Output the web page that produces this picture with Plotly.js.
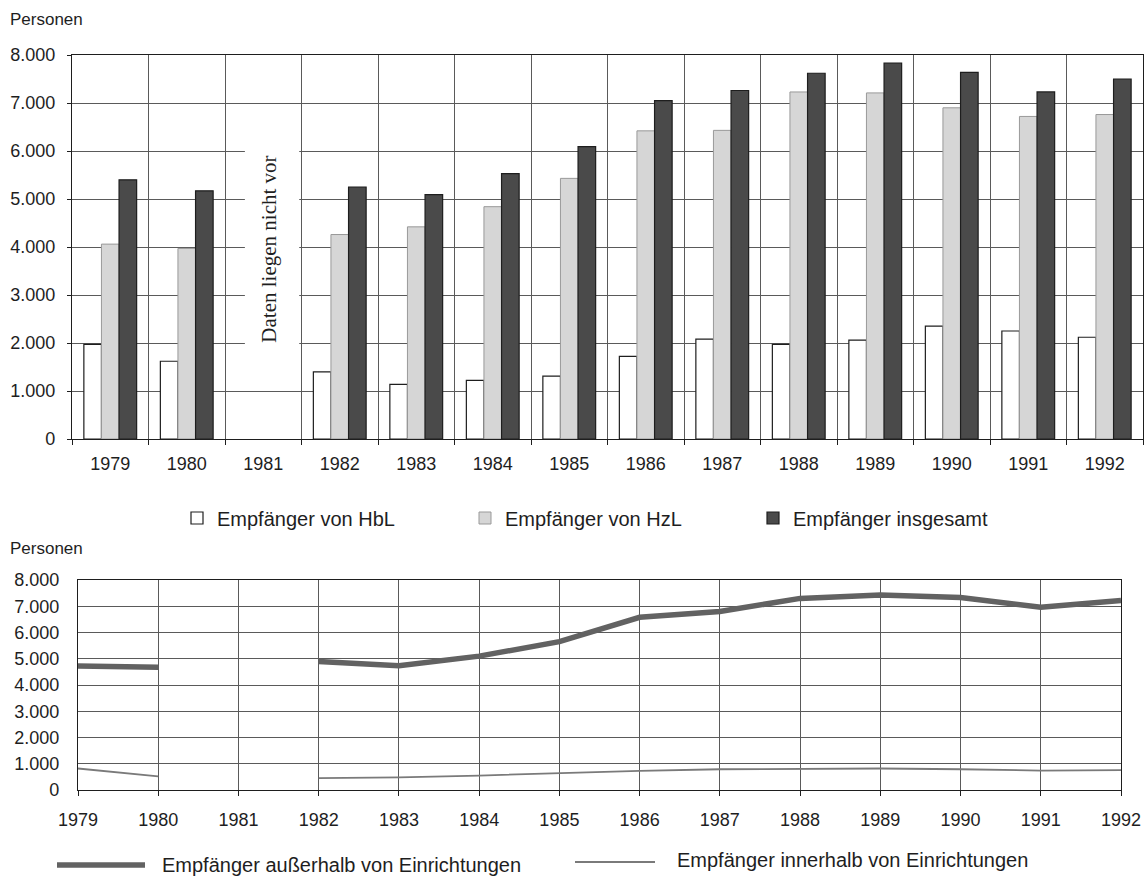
<!DOCTYPE html>
<html>
<head>
<meta charset="utf-8">
<script src="https://cdn.plot.ly/plotly-3.0.1.min.js"></script>
<style>html,body{margin:0;padding:0;background:#fff;}#chart{width:1147px;height:877px;}</style>
</head>
<body>
<div id="chart"></div>
<script>
// ---- data ----
const years = ['1979','1980','1981','1982','1983','1984','1985','1986','1987','1988','1989','1990','1991','1992'];
const hblValues = [1970, 1620, null, 1400, 1140, 1220, 1310, 1720, 2080, 1970, 2060, 2350, 2250, 2120];
const hzlValues = [4060, 3970, null, 4260, 4420, 4840, 5430, 6420, 6430, 7230, 7210, 6900, 6720, 6760];
const totalValues = [5400, 5170, null, 5250, 5090, 5530, 6090, 7050, 7260, 7620, 7830, 7640, 7230, 7500];
const outsideValues = [4720, 4680, null, 4900, 4730, 5100, 5650, 6580, 6800, 7300, 7430, 7330, 6960, 7220];
const insideValues = [820, 520, null, 450, 480, 550, 640, 730, 790, 810, 820, 790, 740, 760];
const yTicks = [0, 1000, 2000, 3000, 4000, 5000, 6000, 7000, 8000];
const seriesNames = ['Empfänger von HbL', 'Empfänger von HzL', 'Empfänger insgesamt'];
const lineNames = ['Empfänger außerhalb von Einrichtungen', 'Empfänger innerhalb von Einrichtungen'];
const missingNote = 'Daten liegen nicht vor';
const missingYear = '1981';
const yTitle = 'Personen';

const W = 1147, H = 877;
const px = x => x / W;
const py = y => 1 - y / H;
const FONT = 'Liberation Sans, Arial, sans-serif';
const ink = '#1e1e1e';
const missingIdx = years.indexOf(missingYear);

const traces = [
  {type:'bar', x: years, y: hblValues, name: seriesNames[0], xaxis:'x', yaxis:'y',
   marker:{color:'#ffffff', line:{color:ink, width:1.2}}},
  {type:'bar', x: years, y: hzlValues, name: seriesNames[1], xaxis:'x', yaxis:'y',
   marker:{color:'#d6d6d6', line:{color:'#999999', width:1}}},
  {type:'bar', x: years, y: totalValues, name: seriesNames[2], xaxis:'x', yaxis:'y',
   marker:{color:'#4a4a4a', line:{color:ink, width:1.2}}},
  {type:'scatter', mode:'lines', x: years.map(Number), y: outsideValues, name: lineNames[0],
   xaxis:'x2', yaxis:'y2', showlegend:false, connectgaps:false,
   line:{color:'#626262', width:5.5}},
  {type:'scatter', mode:'lines', x: years.map(Number), y: insideValues, name: lineNames[1],
   xaxis:'x2', yaxis:'y2', showlegend:false, connectgaps:false,
   line:{color:'#7a7a7a', width:1.8}}
];

const gridCol = '#5a5a5a';
const layout = {
  width: W, height: H, autosize:false,
  margin:{l:0,r:0,t:0,b:0},
  paper_bgcolor:'#fff', plot_bgcolor:'#fff',
  separators: ',.',
  font:{family:FONT, color:ink, size:18},
  barmode:'group', bargap:0.31, bargroupgap:0,
  showlegend:true,
  legend:{orientation:'h', x:px(177), y:py(518), xanchor:'left', yanchor:'middle',
          font:{family:FONT, size:20, color:ink}, entrywidth:243, entrywidthmode:'pixels',
          bgcolor:'rgba(0,0,0,0)', traceorder:'normal'},
  xaxis:{domain:[px(72), px(1143)], anchor:'y', type:'category', categoryorder:'array', categoryarray: years,
         range:[-0.5, years.length - 0.5], autorange:false,
         tickson:'boundaries', ticks:'outside', ticklen:5, tickcolor:ink,
         showgrid:true, gridcolor:gridCol, gridwidth:1,
         showline:true, mirror:true, linecolor:ink, linewidth:1.2,
         tickfont:{size:18, family:FONT, color:ink}, tickangle:0, ticklabelstandoff:8, fixedrange:true},
  yaxis:{domain:[py(439), py(55)], anchor:'x', range:[0,8000], tickvals:yTicks, tickformat:',.0f',
         ticks:'outside', ticklen:4, tickcolor:ink,
         showgrid:true, gridcolor:gridCol, gridwidth:1, zeroline:false,
         showline:true, mirror:true, linecolor:ink, linewidth:1.2,
         tickfont:{size:18, family:FONT, color:ink}, ticklabelstandoff:8, fixedrange:true},
  xaxis2:{domain:[px(78), px(1121)], anchor:'y2', type:'linear', range:[1979,1992], dtick:1, tick0:1979,
         tickformat:'d', ticks:'outside', ticklen:5, tickcolor:ink,
         showgrid:true, gridcolor:gridCol, gridwidth:1, zeroline:false,
         showline:true, mirror:true, linecolor:ink, linewidth:1.2,
         tickfont:{size:18, family:FONT, color:ink}, ticklabelstandoff:8, fixedrange:true},
  yaxis2:{domain:[py(790), py(580)], anchor:'x2', range:[0,8000], tickvals:yTicks, tickformat:',.0f',
         ticks:'', showgrid:true, gridcolor:gridCol, gridwidth:1, zeroline:false,
         showline:true, mirror:true, linecolor:ink, linewidth:1.2,
         tickfont:{size:18, family:FONT, color:ink}, ticklabelstandoff:14, fixedrange:true},
  shapes:[
    {type:'rect', xref:'x', yref:'y', x0:missingIdx - 0.24, x1:missingIdx + 0.47, y0:1500, y1:6300,
     fillcolor:'#ffffff', line:{width:0}, layer:'above'},
    {type:'line', xref:'paper', yref:'paper', x0:px(57), x1:px(145), y0:py(865), y1:py(865),
     line:{color:'#626262', width:5.5}},
    {type:'line', xref:'paper', yref:'paper', x0:px(575), x1:px(655), y0:py(862), y1:py(862),
     line:{color:'#7a7a7a', width:1.8}}
  ],
  annotations:[
    {text:yTitle, xref:'paper', yref:'paper', x:px(8), y:py(20), xanchor:'left', yanchor:'middle',
     showarrow:false, font:{size:17, family:FONT, color:ink}},
    {text:yTitle, xref:'paper', yref:'paper', x:px(8), y:py(548), xanchor:'left', yanchor:'middle',
     showarrow:false, font:{size:17, family:FONT, color:ink}},
    {text:missingNote, xref:'x', yref:'y', x:missingIdx, y:3950, xshift:6, textangle:-90,
     showarrow:false, font:{size:21, family:'Liberation Serif, Times New Roman, serif', color:ink}},
    {text:lineNames[0], xref:'paper', yref:'paper', x:px(160), y:py(865), xanchor:'left', yanchor:'middle',
     showarrow:false, font:{size:20, family:FONT, color:ink}},
    {text:lineNames[1], xref:'paper', yref:'paper', x:px(675), y:py(860), xanchor:'left', yanchor:'middle',
     showarrow:false, font:{size:20, family:FONT, color:ink}}
  ]
};

Plotly.newPlot('chart', traces, layout, {staticPlot:true, displayModeBar:false});
</script>
</body>
</html>
